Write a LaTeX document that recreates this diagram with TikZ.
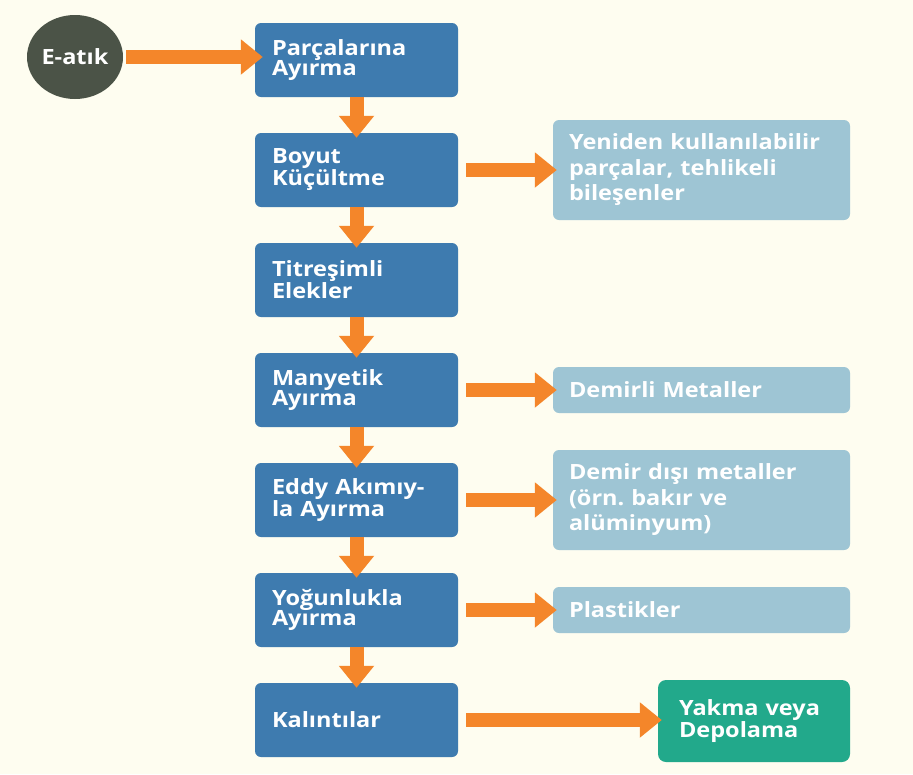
\documentclass[tikz,border=0pt]{standalone}
\usepackage{fontspec}
\setmainfont{Open Sans}[FakeStretch=1.12]
\usetikzlibrary{arrows.meta,shapes.geometric}
\definecolor{bgc}{HTML}{FEFDF0}
\definecolor{dblue}{HTML}{3E7BAF}
\definecolor{lblue}{HTML}{9EC5D4}
\definecolor{orng}{HTML}{F4862A}
\definecolor{dgray}{HTML}{4B5347}
\definecolor{grn}{HTML}{22A98B}
\tikzset{
  dbox/.style={rectangle, rounded corners=6pt, fill=dblue, minimum width=203pt, minimum height=74pt,
    text width=169pt, inner xsep=17pt, align=left, text=white, font=\bfseries\fontsize{21}{20.5}\selectfont},
  lbox/.style={rectangle, rounded corners=6pt, fill=lblue, minimum width=297pt,
    text width=265pt, inner xsep=16pt, align=left, text=white, font=\bfseries\fontsize{21}{25.5}\selectfont},
  gbox/.style={rectangle, rounded corners=8pt, fill=grn, minimum width=192pt, minimum height=82pt,
    text width=150pt, inner xsep=21pt, align=left, text=white, font=\bfseries\fontsize{21}{22}\selectfont},
  startnode/.style={ellipse, fill=dgray, minimum width=96pt, minimum height=84pt, inner sep=0pt,
    text=white, font=\bfseries\fontsize{21}{20}\selectfont},
  bigarr/.style={draw=orng, line width=14pt, -{Triangle[length=22pt,width=34pt]}}
}
\begin{document}
\begin{tikzpicture}[x=1pt,y=-1pt]
\fill[bgc] (0,0) rectangle (913,774);
\useasboundingbox (0,0) rectangle (913,774);
% start
\node[startnode] (c) at (75,57) {E-atık};
% main column
\node[dbox] (b1) at (356.5,60) {Parçalarına\\Ayırma};
\node[dbox] (b2) at (356.5,170) {Boyut\\Küçültme};
\node[dbox] (b3) at (356.5,280) {Titreşimli\\Elekler};
\node[dbox] (b4) at (356.5,390) {Manyetik\\Ayırma};
\node[dbox] (b5) at (356.5,500) {\mbox{Eddy Akımıy-}\\la Ayırma};
\node[dbox] (b6) at (356.5,610) {Yoğunlukla\\Ayırma};
\node[dbox] (b7) at (356.5,720) {Kalıntılar};
% outputs
\node[lbox, minimum height=100pt] (o2) at (701.5,170) {\mbox{Yeniden kullanılabilir}\\parçalar, tehlikeli\\bileşenler};
\node[lbox, minimum height=46pt] (o4) at (701.5,390) {Demirli Metaller};
\node[lbox, minimum height=100pt] (o5) at (701.5,500) {\mbox{Demir dışı metaller}\\(örn.\ bakır ve\\alüminyum)};
\node[lbox, minimum height=46pt] (o6) at (701.5,610) {Plastikler};
\node[gbox] (o7) at (754,721) {Yakma veya\\Depolama};
% arrows
\draw[bigarr, shorten <=3pt, shorten >=-8pt] (c.east) -- (c.east -| b1.west);
\foreach \a/\b in {b1/b2,b2/b3,b3/b4,b4/b5,b5/b6,b6/b7}
  \draw[bigarr, shorten >=-5pt] (\a.south) -- (\b.north);
\draw[bigarr, shorten <=8pt, shorten >=-4pt] (b2.east) -- (o2.west);
\draw[bigarr, shorten <=8pt, shorten >=-4pt] (b4.east) -- (o4.west);
\draw[bigarr, shorten <=8pt, shorten >=-4pt] (b5.east) -- (o5.west);
\draw[bigarr, shorten <=8pt, shorten >=-4pt] (b6.east) -- (o6.west);
\draw[bigarr, shorten <=8pt, shorten >=-4pt] (b7.east) -- (b7.east -| o7.west);
\end{tikzpicture}
\end{document}
